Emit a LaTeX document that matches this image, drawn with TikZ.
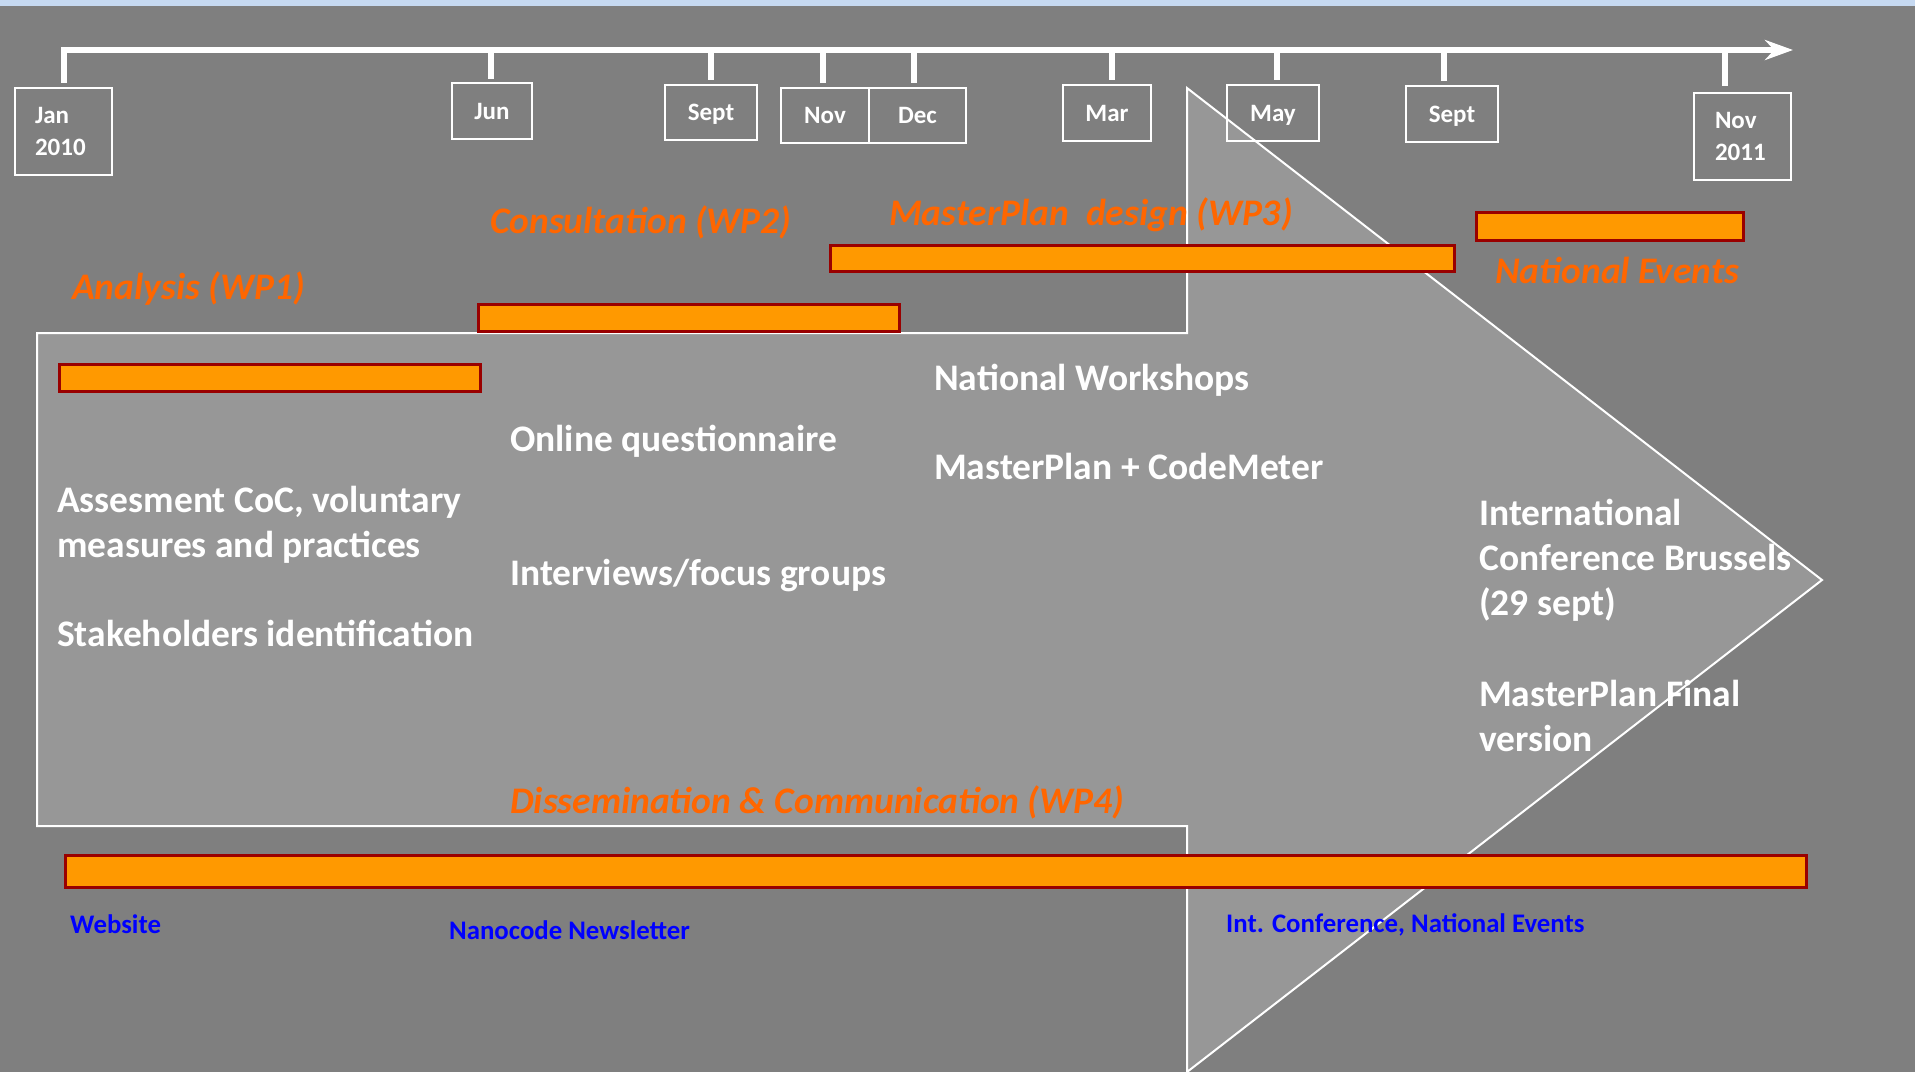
\documentclass[tikz,border=0pt]{standalone}
\usepackage{fontspec}
\setmainfont{Carlito}
\usetikzlibrary{arrows.meta}
\definecolor{bggray}{HTML}{7F7F7F}
\definecolor{arrowgray}{HTML}{979797}
\definecolor{topstrip}{HTML}{C6D9F1}
\definecolor{barfill}{HTML}{FF9900}
\definecolor{barline}{HTML}{990000}
\definecolor{wpcolor}{HTML}{FF6600}
\definecolor{linkblue}{HTML}{0000FF}
\begin{document}
\begin{tikzpicture}[x=1pt,y=-1pt,
  month/.style={draw=white, line width=2.5pt, text=white, font=\fontsize{25}{32}\selectfont\bfseries, text height=16pt, text depth=0pt, inner sep=0pt, align=center},
  tickline/.style={white, line width=6pt},
  axisline/.style={white, line width=6pt, -{Stealth[length=28pt,width=20pt]}},
  bar/.style={fill=barfill, draw=barline, line width=3pt},
  wptext/.style={text=wpcolor, font=\fontsize{37.5}{44}\selectfont\bfseries\itshape, anchor=base west, inner sep=0pt},
  wtext/.style={text=white, font=\fontsize{37.5}{45}\selectfont\bfseries, anchor=base west, inner sep=0pt, align=left},
  btext/.style={text=linkblue, font=\fontsize{26.8}{30}\selectfont\bfseries, anchor=base west, inner sep=0pt},
]
\useasboundingbox (0,0) rectangle (1915,1072);
\fill[bggray] (0,0) rectangle (1915,1072);
\fill[topstrip] (0,0) rectangle (1915,6);

% big arrow
\draw[fill=arrowgray, draw=white, line width=2pt] (37,333) -- (1187,333) -- (1187,88) -- (1822,580) -- (1187,1072) -- (1187,826) -- (37,826) -- cycle;

% timeline
\coordinate (axisL) at (61,50);
\coordinate (axisR) at (1793,50);
\draw[axisline] (axisL) -- (axisR);

\node[month, minimum width=97pt, minimum height=87pt, text width=57pt, inner xsep=20pt, align=left, text depth=32pt] (jan) at (63.5,131.5) {Jan\\2010};
\node[month, minimum width=80pt, minimum height=56pt] (jun) at (492,111) {Jun};
\node[month, minimum width=92pt, minimum height=55pt] (sep) at (711,112.5) {Sept};
\node[month, minimum width=88pt, minimum height=55pt] (nov) at (825,115.5) {Nov};
\node[month, minimum width=97pt, minimum height=55pt] (dec) at (917.5,115.5) {Dec};
\node[month, minimum width=88pt, minimum height=56pt] (mar) at (1107,113) {Mar};
\node[month, minimum width=92pt, minimum height=56pt] (may) at (1273,113) {May};
\node[month, minimum width=92pt, minimum height=56pt] (sepb) at (1452,114) {Sept};
\node[month, minimum width=97pt, minimum height=87pt, text width=55pt, inner xsep=21pt, align=left, text depth=32pt] (novb) at (1742.5,136.5) {Nov\\2011};

\draw[tickline] ([yshift=4pt]jan.north) -- (jan.north |- axisL);
\draw[tickline] ([xshift=-1pt,yshift=3pt]jun.north) -- ([xshift=-1pt]jun.north |- axisL);
\draw[tickline] ([yshift=4pt]sep.north) -- (sep.north |- axisL);
\draw[tickline] ([xshift=-2pt,yshift=4pt]nov.north) -- ([xshift=-2pt]nov.north |- axisL);
\draw[tickline] ([xshift=-3.5pt,yshift=4pt]dec.north) -- ([xshift=-3.5pt]dec.north |- axisL);
\draw[tickline] ([xshift=5pt,yshift=4pt]mar.north) -- ([xshift=5pt]mar.north |- axisL);
\draw[tickline] ([xshift=4pt,yshift=4pt]may.north) -- ([xshift=4pt]may.north |- axisL);
\draw[tickline] ([xshift=-8pt,yshift=4pt]sepb.north) -- ([xshift=-8pt]sepb.north |- axisL);
\draw[tickline] ([xshift=-17.5pt,yshift=6pt]novb.north) -- ([xshift=-17.5pt]novb.north |- axisL);

% bars
\draw[bar] (59,364) rectangle (480,391);
\draw[bar] (478,304) rectangle (899,331);
\draw[bar] (830,245) rectangle (1454,271);
\draw[bar] (1476,212) rectangle (1743,240);
\draw[bar] (65,855) rectangle (1806,887);

% work package labels
\node[wptext] (wp1) at (72,299) {Analysis (WP1)};
\node[wptext] (wp2) at (490,233) {Consultation (WP2)};
\node[wptext] (wp3) at (889,225) {MasterPlan\ \ design (WP3)};
\node[wptext] (nev) at (1495,283) {National Events};
\node[wptext] (wp4) at (510,813) {Dissemination \& Communication (WP4)};

% white texts (base anchor = baseline of the last line)
\node[wtext] (nw) at (934,390) {National Workshops};
\node[wtext] (mcm) at (934,479) {MasterPlan + CodeMeter};
\node[wtext] (icb) at (1479,615) {International\\Conference Brussels\\(29 sept)};
\node[wtext] (mpf) at (1479,751) {MasterPlan Final\\version};
\node[wtext] (oq) at (510,451) {Online questionnaire};
\node[wtext] (ifg) at (510,585) {Interviews/focus groups};
\node[wtext] (acc) at (57,557) {Assesment CoC, voluntary\\measures and practices};
\node[wtext] (sid) at (57,646) {Stakeholders identification};

% blue texts
\node[btext] (web) at (70,933) {Website};
\node[btext] (nnl) at (449,939) {Nanocode Newsletter};
\node[btext] (icn) at (1226,932) {Int. Conference, National Events};
\end{tikzpicture}
\end{document}
